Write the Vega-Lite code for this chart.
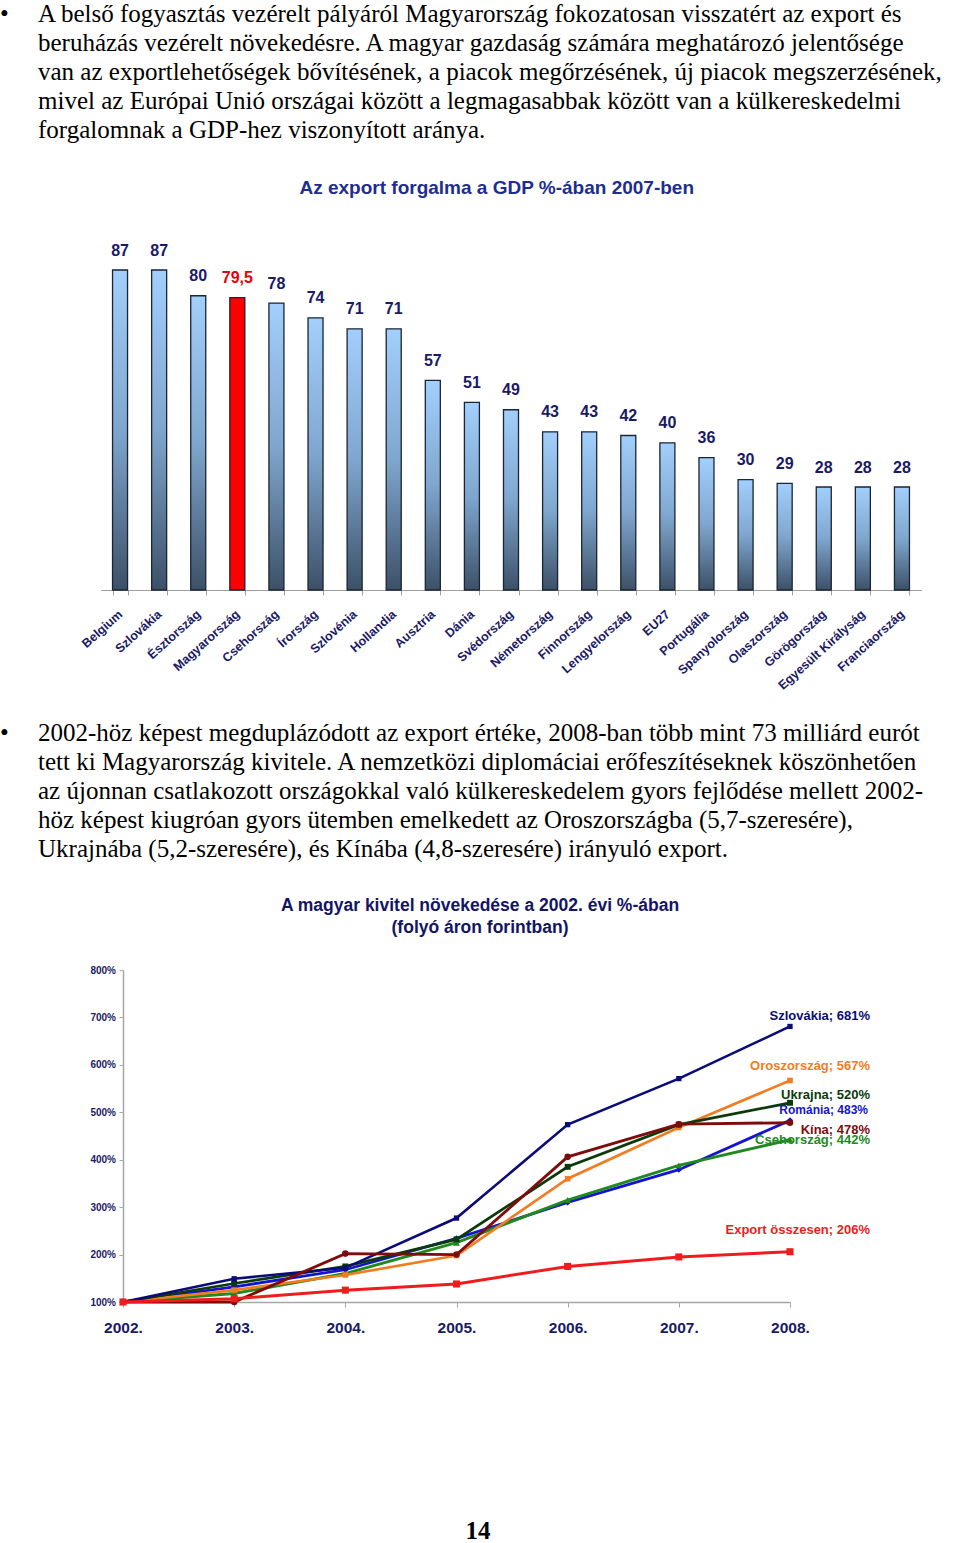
{
  "$schema": "https://vega.github.io/schema/vega-lite/v6.json",
  "padding": 0,
  "background": "white",
  "spacing": 0,
  "config": {
    "view": {"stroke": null},
    "locale": {"number": {"decimal": ",", "thousands": " ", "grouping": [3], "currency": ["", ""]}},
    "axis": {"grid": false},
    "font": "Liberation Sans"
  },
  "datasets": {
    "para1": [
      {"line": 0, "text": "A belső fogyasztás vezérelt pályáról Magyarország fokozatosan visszatért az export és"},
      {"line": 1, "text": "beruházás vezérelt növekedésre. A magyar gazdaság számára meghatározó jelentősége"},
      {"line": 2, "text": "van az exportlehetőségek bővítésének, a piacok megőrzésének, új piacok megszerzésének,"},
      {"line": 3, "text": "mivel az Európai Unió országai között a legmagasabbak között van a külkereskedelmi"},
      {"line": 4, "text": "forgalomnak a GDP-hez viszonyított aránya."}
    ],
    "para2": [
      {"line": 0, "text": "2002-höz képest megduplázódott az export értéke, 2008-ban több mint 73 milliárd eurót"},
      {"line": 1, "text": "tett ki Magyarország kivitele. A nemzetközi diplomáciai erőfeszítéseknek köszönhetően"},
      {"line": 2, "text": "az újonnan csatlakozott országokkal való külkereskedelem gyors fejlődése mellett 2002-"},
      {"line": 3, "text": "höz képest kiugróan gyors ütemben emelkedett az Oroszországba (5,7-szeresére),"},
      {"line": 4, "text": "Ukrajnába (5,2-szeresére), és Kínába (4,8-szeresére) irányuló export."}
    ],
    "export": [
      {"country": "Belgium", "value": 87},
      {"country": "Szlovákia", "value": 87},
      {"country": "Észtország", "value": 80},
      {"country": "Magyarország", "value": 79.5},
      {"country": "Csehország", "value": 78},
      {"country": "Írország", "value": 74},
      {"country": "Szlovénia", "value": 71},
      {"country": "Hollandia", "value": 71},
      {"country": "Ausztria", "value": 57},
      {"country": "Dánia", "value": 51},
      {"country": "Svédország", "value": 49},
      {"country": "Németország", "value": 43},
      {"country": "Finnország", "value": 43},
      {"country": "Lengyelország", "value": 42},
      {"country": "EU27", "value": 40},
      {"country": "Portugália", "value": 36},
      {"country": "Spanyolország", "value": 30},
      {"country": "Olaszország", "value": 29},
      {"country": "Görögország", "value": 28},
      {"country": "Egyesült Királyság", "value": 28},
      {"country": "Franciaország", "value": 28}
    ],
    "growth": [
      {"series": "Románia", "year": "2002.", "value": 100},
      {"series": "Románia", "year": "2003.", "value": 132},
      {"series": "Románia", "year": "2004.", "value": 168},
      {"series": "Románia", "year": "2005.", "value": 234},
      {"series": "Románia", "year": "2006.", "value": 310},
      {"series": "Románia", "year": "2007.", "value": 379},
      {"series": "Románia", "year": "2008.", "value": 483, "label": "Románia; 483%"},
      {"series": "Csehország", "year": "2002.", "value": 100},
      {"series": "Csehország", "year": "2003.", "value": 118},
      {"series": "Csehország", "year": "2004.", "value": 160},
      {"series": "Csehország", "year": "2005.", "value": 225},
      {"series": "Csehország", "year": "2006.", "value": 315},
      {"series": "Csehország", "year": "2007.", "value": 388},
      {"series": "Csehország", "year": "2008.", "value": 442, "label": "Csehország; 442%"},
      {"series": "Oroszország", "year": "2002.", "value": 100},
      {"series": "Oroszország", "year": "2003.", "value": 125},
      {"series": "Oroszország", "year": "2004.", "value": 157},
      {"series": "Oroszország", "year": "2005.", "value": 198},
      {"series": "Oroszország", "year": "2006.", "value": 360},
      {"series": "Oroszország", "year": "2007.", "value": 468},
      {"series": "Oroszország", "year": "2008.", "value": 567, "label": "Oroszország; 567%"},
      {"series": "Ukrajna", "year": "2002.", "value": 100},
      {"series": "Ukrajna", "year": "2003.", "value": 139},
      {"series": "Ukrajna", "year": "2004.", "value": 175},
      {"series": "Ukrajna", "year": "2005.", "value": 232},
      {"series": "Ukrajna", "year": "2006.", "value": 385},
      {"series": "Ukrajna", "year": "2007.", "value": 474},
      {"series": "Ukrajna", "year": "2008.", "value": 520, "label": "Ukrajna; 520%"},
      {"series": "Szlovákia", "year": "2002.", "value": 100},
      {"series": "Szlovákia", "year": "2003.", "value": 149},
      {"series": "Szlovákia", "year": "2004.", "value": 172},
      {"series": "Szlovákia", "year": "2005.", "value": 277},
      {"series": "Szlovákia", "year": "2006.", "value": 474},
      {"series": "Szlovákia", "year": "2007.", "value": 571},
      {"series": "Szlovákia", "year": "2008.", "value": 681, "label": "Szlovákia; 681%"},
      {"series": "Kína", "year": "2002.", "value": 100},
      {"series": "Kína", "year": "2003.", "value": 100},
      {"series": "Kína", "year": "2004.", "value": 202},
      {"series": "Kína", "year": "2005.", "value": 200},
      {"series": "Kína", "year": "2006.", "value": 406},
      {"series": "Kína", "year": "2007.", "value": 475},
      {"series": "Kína", "year": "2008.", "value": 478, "label": "Kína; 478%"},
      {"series": "Export összesen", "year": "2002.", "value": 100},
      {"series": "Export összesen", "year": "2003.", "value": 107},
      {"series": "Export összesen", "year": "2004.", "value": 125},
      {"series": "Export összesen", "year": "2005.", "value": 138},
      {"series": "Export összesen", "year": "2006.", "value": 175},
      {"series": "Export összesen", "year": "2007.", "value": 195},
      {"series": "Export összesen", "year": "2008.", "value": 206, "label": "Export összesen; 206%"}
    ]
  },
  "vconcat": [
    {
      "width": 960,
      "height": 178,
      "layer": [
        {
          "data": {"name": "para1"},
          "mark": {"type": "text", "align": "left", "baseline": "alphabetic", "font": "Liberation Serif", "fontSize": 25, "color": "#000000"},
          "encoding": {
            "x": {"value": 33},
            "y": {"field": "line", "type": "quantitative", "scale": {"domain": [0, 4], "range": [22, 137.6]}, "axis": null},
            "text": {"field": "text"}
          }
        },
        {
          "data": {"values": [{"line": 0, "bullet": "•"}]},
          "mark": {"type": "text", "align": "left", "baseline": "alphabetic", "font": "Liberation Serif", "fontSize": 25, "color": "#000000"},
          "encoding": {
            "x": {"value": -5},
            "y": {"field": "line", "type": "quantitative"},
            "text": {"field": "bullet"}
          }
        }
      ]
    },
    {
      "width": 921.5,
      "height": 320,
      "title": {"text": "Az export forgalma a GDP %-ában 2007-ben", "font": "Liberation Sans", "fontSize": 19, "fontWeight": "bold", "color": "#1E2D90", "anchor": "middle", "frame": "group", "dx": 31, "offset": 45},
      "data": {"name": "export"},
      "encoding": {
        "x": {
          "field": "country", "type": "nominal", "sort": null,
          "scale": {"domain": ["Belgium", "Szlovákia", "Észtország", "Magyarország", "Csehország", "Írország", "Szlovénia", "Hollandia", "Ausztria", "Dánia", "Svédország", "Németország", "Finnország", "Lengyelország", "EU27", "Portugália", "Spanyolország", "Olaszország", "Görögország", "Egyesült Királyság", "Franciaország"], "range": [95.5, 916.5], "paddingInner": 0.616, "paddingOuter": 0.308},
          "axis": {"title": null, "labelAngle": -42, "labelAlign": "right", "labelBaseline": "middle", "labelFont": "Liberation Sans", "labelFontSize": 12.5, "labelFontWeight": "bold", "labelColor": "#1A1A66", "labelPadding": 17, "tickBand": "extent", "tickSize": 5, "tickColor": "#A0A0A0", "domainColor": "#A0A0A0", "labelOverlap": false, "labelBound": false}
        },
        "y": {
          "field": "value", "type": "quantitative",
          "scale": {"domain": [0, 87], "nice": false},
          "axis": null
        }
      },
      "layer": [
        {
          "transform": [{"filter": "datum.country !== 'Magyarország'"}],
          "mark": {"type": "bar", "stroke": "#1B2433", "strokeWidth": 1.3,
            "fill": {"gradient": "linear", "x1": 0, "y1": 0, "x2": 0, "y2": 1, "stops": [{"offset": 0, "color": "#A2CFFC"}, {"offset": 0.5, "color": "#7FA6CE"}, {"offset": 1, "color": "#3C5168"}]}}
        },
        {
          "transform": [{"filter": "datum.country === 'Magyarország'"}],
          "mark": {"type": "bar", "stroke": "#1B2433", "strokeWidth": 1.3, "fill": "#FF0000"}
        },
        {
          "mark": {"type": "text", "baseline": "alphabetic", "dy": -14.5, "fontSize": 16, "fontWeight": "bold", "font": "Liberation Sans"},
          "encoding": {
            "text": {"field": "value", "type": "quantitative", "format": ".1~f"},
            "color": {"condition": {"test": "datum.country === 'Magyarország'", "value": "#E8000B"}, "value": "#1A1A66"}
          }
        }
      ]
    },
    {
      "width": 960,
      "height": 205,
      "layer": [
        {
          "data": {"name": "para2"},
          "mark": {"type": "text", "align": "left", "baseline": "alphabetic", "font": "Liberation Serif", "fontSize": 25, "color": "#000000"},
          "encoding": {
            "x": {"value": 33},
            "y": {"field": "line", "type": "quantitative", "scale": {"domain": [0, 4], "range": [49, 164.6]}, "axis": null},
            "text": {"field": "text"}
          }
        },
        {
          "data": {"values": [{"line": 0, "bullet": "•"}]},
          "mark": {"type": "text", "align": "left", "baseline": "alphabetic", "font": "Liberation Serif", "fontSize": 25, "color": "#000000"},
          "encoding": {
            "x": {"value": -5},
            "y": {"field": "line", "type": "quantitative"},
            "text": {"field": "bullet"}
          }
        }
      ]
    },
    {
      "width": 790,
      "height": 332,
      "title": {"text": ["A magyar kivitel növekedése a 2002. évi %-ában", "(folyó áron forintban)"], "font": "Liberation Sans", "fontSize": 17.5, "fontWeight": "bold", "color": "#141466", "anchor": "middle", "frame": "group", "dx": 80, "offset": 28.5, "lineHeight": 22},
      "data": {"name": "growth"},
      "encoding": {
        "x": {
          "field": "year", "type": "ordinal", "sort": null,
          "scale": {"type": "point", "padding": 0, "range": [118, 785]},
          "axis": {"title": null, "labelAngle": 0, "labelFont": "Liberation Sans", "labelFontSize": 15.5, "labelFontWeight": "bold", "labelColor": "#1A1A66", "labelPadding": 13, "tickSize": 5, "tickColor": "#A6A6A6", "domainColor": "#A6A6A6", "domainWidth": 1.5}
        },
        "y": {
          "field": "value", "type": "quantitative",
          "scale": {"domain": [100, 800], "nice": false, "zero": false},
          "axis": {"values": [100, 200, 300, 400, 500, 600, 700, 800], "labelExpr": "datum.value + '%'", "title": null, "offset": -118, "tickSize": 4, "labelPadding": 3.5, "labelFont": "Liberation Sans", "labelFontSize": 10, "labelFontWeight": "bold", "labelColor": "#1A1A66", "domainColor": "#A6A6A6", "tickColor": "#A6A6A6", "domainWidth": 1.5}
        },
        "color": {
          "field": "series", "type": "nominal",
          "scale": {"domain": ["Szlovákia", "Oroszország", "Ukrajna", "Románia", "Kína", "Csehország", "Export összesen"], "range": ["#0C0C78", "#F27C22", "#0B3A0B", "#1414D2", "#7E0C0C", "#208A20", "#EE1C1C"]},
          "legend": null
        }
      },
      "layer": [
        {
          "mark": {"type": "line"},
          "encoding": {
            "strokeWidth": {"field": "series", "type": "nominal", "scale": {"domain": ["Szlovákia", "Oroszország", "Ukrajna", "Románia", "Kína", "Csehország", "Export összesen"], "range": [2.6, 3, 3, 1.4, 3, 1.6, 2.6]}, "legend": null}
          }
        },
        {
          "mark": {"type": "point", "filled": true, "opacity": 1},
          "encoding": {
            "shape": {"field": "series", "type": "nominal", "scale": {"domain": ["Szlovákia", "Oroszország", "Ukrajna", "Románia", "Kína", "Csehország", "Export összesen"], "range": ["square", "square", "square", "diamond", "circle", "triangle-up", "square"]}, "legend": null},
            "size": {"field": "series", "type": "nominal", "scale": {"domain": ["Szlovákia", "Oroszország", "Ukrajna", "Románia", "Kína", "Csehország", "Export összesen"], "range": [28, 50, 50, 45, 100, 60, 50]}, "legend": null}
          }
        },
        {
          "transform": [{"filter": "datum.series === 'Szlovákia' && datum.year === '2008.'"}],
          "mark": {"type": "text", "align": "right", "baseline": "middle", "dx": 80, "dy": -10, "fontSize": 13, "fontWeight": "bold", "font": "Liberation Sans"},
          "encoding": {"text": {"field": "label"}}
        },
        {
          "transform": [{"filter": "datum.series === 'Oroszország' && datum.year === '2008.'"}],
          "mark": {"type": "text", "align": "right", "baseline": "middle", "dx": 80, "dy": -14.3, "fontSize": 13, "fontWeight": "bold", "font": "Liberation Sans"},
          "encoding": {"text": {"field": "label"}}
        },
        {
          "transform": [{"filter": "datum.series === 'Ukrajna' && datum.year === '2008.'"}],
          "mark": {"type": "text", "align": "right", "baseline": "middle", "dx": 80, "dy": -8, "fontSize": 13, "fontWeight": "bold", "font": "Liberation Sans"},
          "encoding": {"text": {"field": "label"}}
        },
        {
          "transform": [{"filter": "datum.series === 'Románia' && datum.year === '2008.'"}],
          "mark": {"type": "text", "align": "right", "baseline": "middle", "dx": 78, "dy": -10.6, "fontSize": 12, "fontWeight": "bold", "font": "Liberation Sans"},
          "encoding": {"text": {"field": "label"}}
        },
        {
          "transform": [{"filter": "datum.series === 'Kína' && datum.year === '2008.'"}],
          "mark": {"type": "text", "align": "right", "baseline": "middle", "dx": 80, "dy": 6.8, "fontSize": 13, "fontWeight": "bold", "font": "Liberation Sans"},
          "encoding": {"text": {"field": "label"}}
        },
        {
          "transform": [{"filter": "datum.series === 'Csehország' && datum.year === '2008.'"}],
          "mark": {"type": "text", "align": "right", "baseline": "middle", "dx": 80, "dy": 0.5, "fontSize": 13, "fontWeight": "bold", "font": "Liberation Sans"},
          "encoding": {"text": {"field": "label"}}
        },
        {
          "transform": [{"filter": "datum.series === 'Export összesen' && datum.year === '2008.'"}],
          "mark": {"type": "text", "align": "right", "baseline": "middle", "dx": 80, "dy": -22, "fontSize": 13, "fontWeight": "bold", "font": "Liberation Sans"},
          "encoding": {"text": {"field": "label"}}
        }
      ]
    },
    {
      "width": 960,
      "height": 215,
      "data": {"values": [{"page": "14"}]},
      "mark": {"type": "text", "align": "center", "baseline": "alphabetic", "font": "Liberation Serif", "fontSize": 25, "fontWeight": "bold", "color": "#000000"},
      "encoding": {"x": {"value": 473}, "y": {"value": 203}, "text": {"field": "page"}}
    }
  ]
}
